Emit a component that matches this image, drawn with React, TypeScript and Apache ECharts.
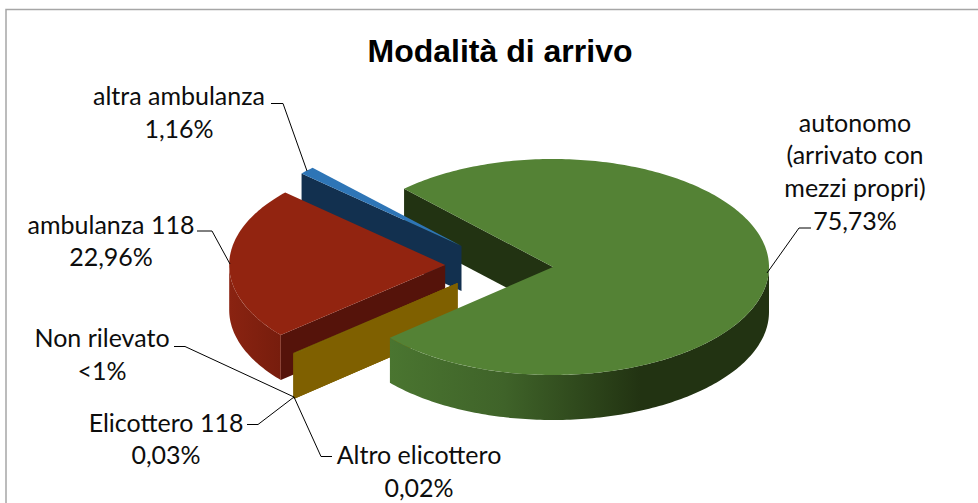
import React, { useEffect, useRef } from "react";
import * as echarts from "echarts";

const chartTitle = "Modalità di arrivo";
const categories = ["autonomo", "Altro elicottero", "Elicottero 118", "Non rilevato", "ambulanza 118", "altra ambulanza"];
const values = [75.73, 0.02, 0.03, 0.1, 22.96, 1.16];

const labelLines = [
  ["autonomo", "(arrivato con", "mezzi propri)", "75,73%"],
  ["Altro elicottero", "0,02%"],
  ["Elicottero 118", "0,03%"],
  ["Non rilevato", "<1%"],
  ["ambulanza 118", "22,96%"],
  ["altra ambulanza", "1,16%"],
];

// layout of the 3D projection
const RX = 216;
const RY = 108;
const DEPTH = 45;
const START_DEG = -43.6;
const apexes = [[553, 267], [457.5, 283], [457.5, 283], [457.5, 283], [445.2, 265], [461.5, 246]];
const topColors = ["#548235", "#6f8f2a", "#7f8a10", "#7f6000", "#922410", "#2e75b6"];
const cutColors = ["#223312", "#7f6000", "#7f6000", "#7f6000", "#55130a", "#12304f"];
const drawOrder = [20, 14, 12, 10, 6, 3];

const labelAnchors = [[855, 121.5], [419, 453.5], [166, 421.5], [102, 336.5], [111, 223.5], [179, 94.5]];
const lineHeights = [32.7, 33, 32, 33, 32, 33];
const leaderLines = [
  [[811, 228], [799, 228], [767, 273]],
  [[332, 456.5], [321, 456.5], [294, 397]],
  [[247, 424.5], [258, 424.5], [294, 397]],
  [[174, 346.5], [185, 346.5], [294, 397]],
  [[197, 231], [212, 231], [230, 264]],
  [[271, 103.5], [283, 103.5], [307, 171]],
];

const total = values.reduce((a, b) => a + b, 0);
const rad = (d: number) => (d * Math.PI) / 180;

function rimFill(i: number) {
  if (i === 0) {
    return new echarts.graphic.LinearGradient(0, 0, 1, 0, [
      { offset: 0, color: "#4a7530" },
      { offset: 0.3, color: "#3f6329" },
      { offset: 0.55, color: "#2b4219" },
      { offset: 0.66, color: "#223312" },
      { offset: 1, color: "#223312" },
    ]);
  }
  if (i === 4) {
    return new echarts.graphic.LinearGradient(0, 0, 1, 0, [
      { offset: 0, color: "#8a2311" },
      { offset: 1, color: "#771d0d" },
    ]);
  }
  return cutColors[i];
}

function renderItem(params: any, api: any) {
  const i = params.dataIndex;
  const before = values.slice(0, i).reduce((a, b) => a + b, 0);
  const a0 = START_DEG + (before / total) * 360;
  const a1 = a0 + (api.value(0) / total) * 360;
  const [cx, cy] = apexes[i];
  const pt = (t: number, dy = 0) => [cx + RX * Math.sin(rad(t)), cy - RY * Math.cos(rad(t)) + dy];
  const arc = (from: number, to: number, dy = 0) => {
    const n = Math.max(1, Math.ceil(Math.abs(to - from)));
    const out: number[][] = [];
    for (let k = 0; k <= n; k++) out.push(pt(from + ((to - from) * k) / n, dy));
    return out;
  };
  const z = drawOrder[i];
  const children: any[] = [];
  const wall = (t: number) => ({
    type: "polygon",
    z2: i === 0 ? 1 : z,
    shape: { points: [pt(t), [cx, cy], [cx, cy + DEPTH], pt(t, DEPTH)] },
    style: { fill: cutColors[i] },
  });
  const norm = (t: number) => ((t % 360) + 360) % 360;
  if (norm(a0) > 180) children.push(wall(a0));
  if (norm(a1) < 180) children.push(wall(a1));
  const rimFrom = Math.max(a0, 90);
  const rimTo = Math.min(a1, 270);
  if (rimTo > rimFrom) {
    children.push({
      type: "polygon",
      z2: z,
      shape: { points: [...arc(rimFrom, rimTo), ...arc(rimTo, rimFrom, DEPTH)] },
      style: { fill: rimFill(i) },
    });
  }
  children.push({
    type: "polygon",
    z2: z + 1,
    shape: { points: [[cx, cy], ...arc(a0, a1)] },
    style: { fill: topColors[i] },
  });
  return { type: "group", children };
}

export default function App() {
  const ref = useRef<HTMLDivElement>(null);
  useEffect(() => {
    document.body.style.margin = "0";
    const chart = echarts.init(ref.current!, undefined, { renderer: "svg" });
    const graphics: any[] = [
      {
        type: "polyline",
        silent: true,
        shape: { points: [[6, 503], [6, 9.5], [978, 9.5]] },
        style: { stroke: "#a6a6a6", lineWidth: 1.5, fill: "none" },
      },
    ];
    leaderLines.forEach((pts) => {
      graphics.push({
        type: "polyline",
        silent: true,
        z: 20,
        shape: { points: pts },
        style: { stroke: "#000000", lineWidth: 1, fill: "none" },
      });
    });
    labelLines.forEach((lines, i) => {
      lines.forEach((t, k) => {
        graphics.push({
          type: "text",
          silent: true,
          z: 20,
          x: labelAnchors[i][0],
          y: labelAnchors[i][1] + k * lineHeights[i],
          style: {
            text: t,
            fill: "#0d0d0d",
            font: '25px Lato, "Noto Sans", sans-serif',
            textAlign: "center",
            textVerticalAlign: "middle",
          },
        });
      });
    });
    chart.setOption({
      animation: false,
      backgroundColor: "#ffffff",
      title: {
        text: chartTitle,
        left: 495,
        top: 30,
        textAlign: "center",
        textStyle: { fontFamily: '"Liberation Sans", Arial, sans-serif', fontSize: 32, fontWeight: "bold", color: "#000000" },
      },
      tooltip: { show: false },
      series: [
        {
          type: "custom",
          coordinateSystem: "none",
          name: chartTitle,
          renderItem,
          silent: true,
          data: values.map((v, i) => ({ name: categories[i], value: [v] })),
        },
      ],
      graphic: graphics,
    });
    return () => chart.dispose();
  }, []);
  return <div ref={ref} style={{ width: 978, height: 503 }} />;
}
